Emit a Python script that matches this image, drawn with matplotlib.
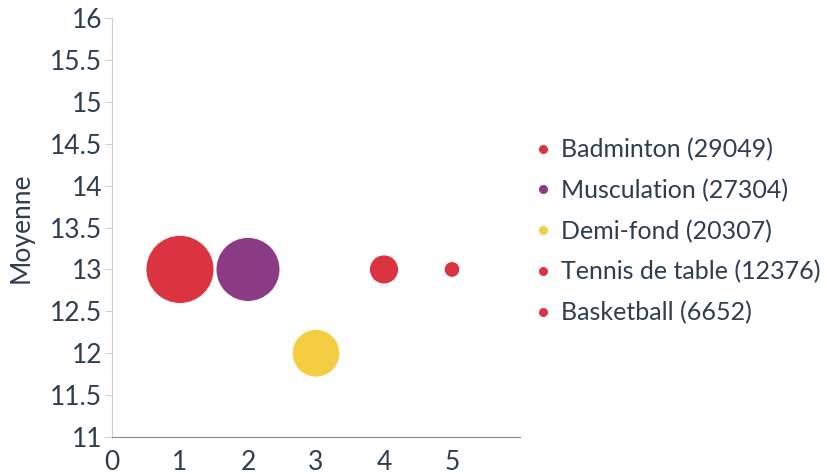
import matplotlib.pyplot as plt
from matplotlib.lines import Line2D

plt.rcParams['font.family'] = ['Lato', 'DejaVu Sans']

# data
sports = ['Badminton', 'Musculation', 'Demi-fond', 'Tennis de table', 'Basketball']
counts = [29049, 27304, 20307, 12376, 6652]
x_pos = [1, 2, 3, 4, 5]
moyenne = [13, 13, 12, 13, 13]
colors = ['#db3440', '#8b3a84', '#f5cd43', '#db3440', '#db3440']

text_color = '#2e3e4f'

fig = plt.figure(figsize=(8.27, 4.74), dpi=100)
ax = fig.add_axes([0.1354, 0.078, 0.4934, 0.884])

# bubble radius proportional to count (max radius ~34 px)
max_r_px = 34
sizes = [(2 * c / max(counts) * max_r_px * 0.72) ** 2 for c in counts]
ax.scatter(x_pos, moyenne, s=sizes, c=colors, edgecolors='white', linewidths=0.6, zorder=3)

ax.set_xlim(0, 6)
ax.set_ylim(11, 16)
ax.set_xticks([0, 1, 2, 3, 4, 5])
ax.set_yticks([11 + 0.5 * i for i in range(11)])
ax.set_yticklabels(['11', '11.5', '12', '12.5', '13', '13.5', '14', '14.5', '15', '15.5', '16'])

for side in ['top', 'right']:
    ax.spines[side].set_visible(False)
ax.spines['left'].set_color('#cfcfcf')
ax.spines['bottom'].set_color('#8a8a8a')
ax.tick_params(axis='y', colors='#cfcfcf', labelcolor=text_color, labelsize=19, length=5, pad=2)
ax.tick_params(axis='x', length=0, labelcolor=text_color, labelsize=19, pad=9)
ax.set_ylabel('Moyenne', fontsize=19, color=text_color, labelpad=12)

handles = [Line2D([0], [0], marker='o', linestyle='', markersize=6.5, markerfacecolor=c,
                  markeredgecolor='none') for c in colors]
labels = [f'{s} ({c})' for s, c in zip(sports, counts)]
leg = fig.legend(handles, labels, loc='center left', bbox_to_anchor=(0.6145, 0.512),
                 frameon=False, fontsize=18, labelspacing=0.7, handletextpad=0.22,
                 handlelength=1.0, labelcolor=text_color)

plt.savefig('out.png', dpi=100)
